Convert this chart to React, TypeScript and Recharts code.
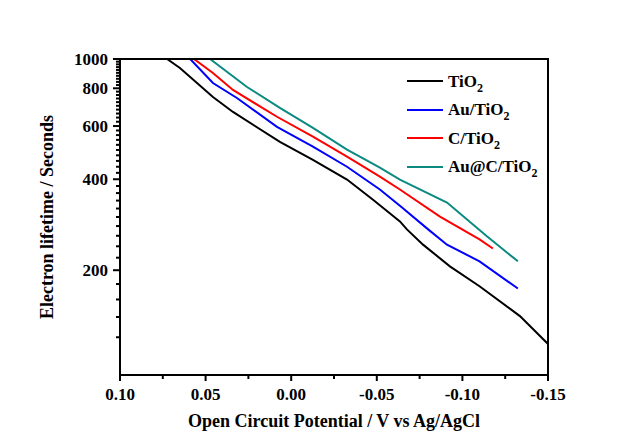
import React from 'react';
import { LineChart, Line, XAxis, YAxis } from 'recharts';

// Open circuit potential (V vs Ag/AgCl) and electron lifetime (s) per sample
const tio2X = [0.0725, 0.065, 0.0457, 0.034, 0.0066, -0.0127, -0.0326, -0.0478, -0.0635, -0.0676, -0.077, -0.0927, -0.11, -0.1336, -0.15];
const tio2Y = [1000, 934, 749, 668, 532, 464, 399, 342, 290, 273, 243, 206, 177, 141, 114];

const auX = [0.059, 0.0457, 0.0317, 0.0083, -0.0127, -0.0326, -0.0518, -0.0635, -0.08, -0.091, -0.11, -0.1324];
const auY = [1000, 833, 743, 596, 513, 440, 370, 327, 273, 243, 214, 174];

const cX = [0.0568, 0.0457, 0.034, 0.0083, -0.0127, -0.0326, -0.0518, -0.0635, -0.0869, -0.11, -0.1178];
const cY = [1000, 899, 790, 644, 553, 475, 408, 370, 301, 253, 236];

const aucX = [0.0474, 0.0258, 0.0066, -0.0127, -0.0326, -0.0518, -0.0635, -0.091, -0.1143, -0.1324];
const aucY = [1000, 808, 689, 592, 501, 437, 399, 335, 259, 214];

const seriesNames = ['TiO', 'Au/TiO', 'C/TiO', 'Au@C/TiO'];
const seriesColors = ['#000000', '#0000ff', '#ff0000', '#0a8a80'];

const xTicks = [0.1, 0.075, 0.05, 0.025, 0, -0.025, -0.05, -0.075, -0.1, -0.125, -0.15];
const yMajorTicks = [200, 400, 600, 800, 1000];
const yMinorTicks = [120, 140, 160, 180, 220, 240, 260, 280, 300, 320, 340, 360, 380, 420, 440, 460, 480, 500, 520, 540, 560, 580, 620, 640, 660, 680, 700, 720, 740, 760, 780, 820, 840, 860, 880, 900, 920, 940, 960, 980];
const yTicks = [...yMinorTicks, ...yMajorTicks].sort((a, b) => a - b);

const zip = (xs: number[], ys: number[]) => xs.map((x, i) => ({ x, y: ys[i] }));
const seriesData = [zip(tio2X, tio2Y), zip(auX, auY), zip(cX, cY), zip(aucX, aucY)];

const FONT = '"Liberation Serif", "Times New Roman", serif';

const YTick = (props: any) => {
  const { x, y, payload } = props;
  const v = payload.value;
  const major = yMajorTicks.includes(v);
  return (
    <g>
      <line x1={x} x2={x - (major ? 7 : 4)} y1={y} y2={y} stroke="#000" strokeWidth={2} />
      {major && (
        <text x={x - 12} y={y} dy={6} textAnchor="end" fontFamily={FONT} fontWeight="bold" fontSize={17} fill="#000">
          {v}
        </text>
      )}
    </g>
  );
};

const XTick = (props: any) => {
  const { x, y, payload } = props;
  const v = payload.value;
  const major = Math.abs(Math.round(v * 20) - v * 20) < 1e-6;
  return (
    <g>
      <line x1={x} x2={x} y1={y} y2={y + (major ? 6 : 4)} stroke="#000" strokeWidth={2} />
      {major && (
        <text x={x} y={y + 25} textAnchor="middle" fontFamily={FONT} fontWeight="bold" fontSize={17} fill="#000">
          {v.toFixed(2)}
        </text>
      )}
    </g>
  );
};

const XLabel = (props: any) => {
  const vb = props.viewBox;
  return (
    <text x={vb.x + vb.width / 2} y={vb.y + 52} textAnchor="middle" fontFamily={FONT} fontWeight="bold" fontSize={18} fill="#000">
      Open Circuit Potential / V vs Ag/AgCl
    </text>
  );
};

const YLabel = (props: any) => {
  const vb = props.viewBox;
  const cx = 47;
  const cy = vb.y + vb.height / 2;
  return (
    <text x={cx} y={cy} transform={`rotate(-90 ${cx} ${cy})`} textAnchor="middle" dominantBaseline="central" fontFamily={FONT} fontWeight="bold" fontSize={18} fill="#000">
      Electron lifetime / Seconds
    </text>
  );
};

export default function App() {
  return (
    <div style={{ position: 'absolute', left: 0, top: 0, width: 624, height: 440, background: '#fff' }}>
      <LineChart width={624} height={440} margin={{ top: 59, right: 76, bottom: 0, left: 0 }}>
        <XAxis
          xAxisId="b"
          type="number"
          dataKey="x"
          domain={[-0.15, 0.1]}
          reversed
          ticks={xTicks}
          interval={0}
          tick={<XTick />}
          tickLine={false}
          tickSize={0}
          tickMargin={0}
          height={65}
          axisLine={{ stroke: '#000', strokeWidth: 2 }}
          allowDataOverflow
          label={<XLabel />}
        />
        <YAxis
          yAxisId="l"
          scale="log"
          domain={[90, 1000]}
          allowDataOverflow
          ticks={yTicks}
          interval={0}
          tick={<YTick />}
          tickLine={false}
          tickSize={0}
          tickMargin={0}
          width={120}
          axisLine={{ stroke: '#000', strokeWidth: 2 }}
          label={<YLabel />}
        />
        {seriesData.map((d, i) => (
          <Line
            key={seriesNames[i]}
            xAxisId="b"
            yAxisId="l"
            data={d}
            dataKey="y"
            type="linear"
            stroke={seriesColors[i]}
            strokeWidth={2}
            dot={false}
            isAnimationActive={false}
          />
        ))}
      </LineChart>
      <div
        style={{
          position: 'absolute',
          left: 120,
          top: 58,
          width: 429,
          height: 317,
          boxSizing: 'border-box',
          borderTop: '2px solid #000',
          borderRight: '2px solid #000',
          pointerEvents: 'none',
        }}
      />
      <div style={{ position: 'absolute', left: 407, top: 67, fontFamily: FONT, fontWeight: 'bold', fontSize: 17, color: '#000' }}>
        {seriesNames.map((n, i) => (
          <div key={n} style={{ height: 28.5, display: 'flex', alignItems: 'center' }}>
            <span style={{ display: 'inline-block', width: 36, height: 2, background: seriesColors[i], marginRight: 5 }} />
            <span style={{ lineHeight: '17px' }}>
              {n}
              <sub style={{ fontSize: 12, verticalAlign: -5, lineHeight: 0 }}>2</sub>
            </span>
          </div>
        ))}
      </div>
    </div>
  );
}
